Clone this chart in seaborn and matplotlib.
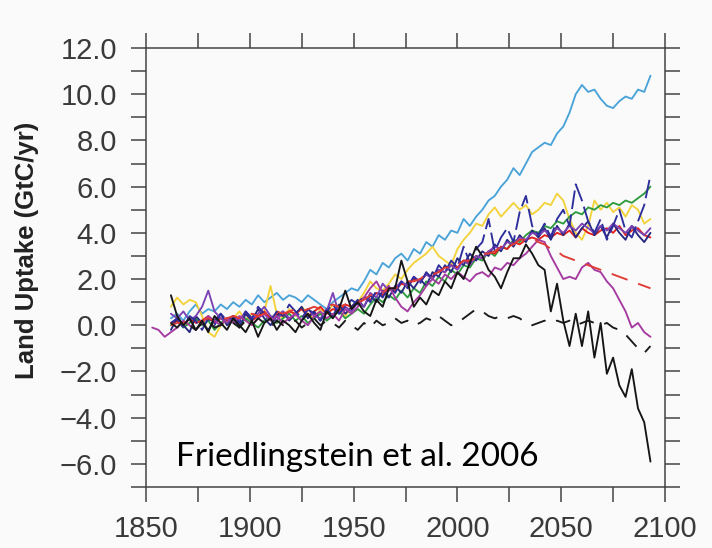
import matplotlib
matplotlib.use("Agg")
import matplotlib.pyplot as plt
import seaborn as sns
import pandas as pd
from matplotlib.ticker import MultipleLocator, FuncFormatter

# ---- data: annual land carbon uptake (GtC/yr), one value every 3 years ----
YEARS = list(range(1862, 2094, 3))            # 1862 ... 2093
YEARS_EARLY = list(range(1853, 2094, 3))      # 1853 ... 2093

light_blue = [0.3, 0.5, 0.2, 0.6, 0.9, 0.5, 0.7, 0.6, 0.9, 0.7,
              1.0, 0.8, 1.1, 0.9, 1.3, 1.0, 1.2, 1.4, 1.1, 1.3,
              1.2, 1.0, 1.3, 1.1, 0.9, 0.7, 1.0, 1.2, 1.4, 1.6,
              1.5, 1.9, 2.4, 2.2, 2.7, 2.5, 2.9, 3.1, 2.8, 3.3,
              3.1, 3.6, 3.4, 3.9, 3.7, 4.1, 4.0, 4.6, 4.3, 4.7,
              5.0, 5.4, 5.6, 6.0, 6.3, 6.8, 6.5, 7.0, 7.5, 7.7,
              7.9, 7.8, 8.3, 8.6, 9.2, 10.0, 10.4, 10.1, 10.2, 9.8,
              9.5, 9.4, 9.7, 9.9, 9.8, 10.2, 10.1, 10.8]

yellow = [0.8, 1.2, 0.9, 1.1, 1.0, 0.4, -0.3, -0.5, 0.0, 0.2,
          0.3, 0.6, 0.2, 0.5, 0.4, 0.6, 1.7, 0.5, 0.3, 0.7,
          0.4, 0.8, 0.5, 0.3, 0.7, 0.5, 0.9, 0.6, 0.4, 0.8,
          1.0, 1.4, 1.9, 1.6, 1.5, 1.8, 2.2, 2.0, 2.4, 2.7,
          2.9, 3.1, 3.4, 3.0, 2.8, 2.6, 3.3, 3.7, 4.0, 4.4,
          4.3, 4.8, 5.1, 4.7, 5.0, 5.3, 5.0, 5.2, 4.8, 5.0,
          5.3, 5.2, 5.7, 5.4, 4.6, 4.0, 3.7, 4.3, 5.4, 5.0,
          5.3, 4.9, 5.1, 4.7, 5.2, 5.0, 4.4, 4.6]

green = [0.0, 0.2, -0.1, 0.1, 0.3, 0.0, 0.2, -0.2, 0.1, 0.3,
         0.2, 0.0, 0.3, 0.1, -0.1, 0.2, 0.4, 0.1, 0.3, 0.5,
         0.2, 0.4, 0.1, 0.3, 0.5, 0.2, 0.4, 0.6, 0.3, 0.5,
         0.7, 0.5, 0.9, 1.2, 1.0, 1.3, 1.1, 1.5, 1.2, 1.6,
         1.4, 1.9, 1.7, 2.1, 1.9, 2.4, 2.2, 2.6, 2.5, 2.9,
         2.8, 3.2, 3.0, 3.4, 3.3, 3.7, 3.6, 3.9, 4.1, 4.0,
         4.3, 4.2, 4.5, 4.4, 4.7, 4.9, 4.8, 5.1, 5.0, 5.2,
         5.1, 5.3, 5.2, 5.4, 5.3, 5.5, 5.7, 6.0]

red = [0.1, 0.2, 0.0, 0.3, 0.1, 0.2, 0.4, 0.1, 0.3, 0.2,
       0.4, 0.3, 0.5, 0.2, 0.4, 0.6, 0.3, 0.5, 0.4, 0.6,
       0.5, 0.7, 0.4, 0.6, 0.8, 0.5, 0.7, 0.6, 0.9, 0.8,
       1.0, 1.2, 1.1, 1.4, 1.3, 1.6, 1.5, 1.8, 1.7, 2.0,
       1.9, 2.2, 2.1, 2.4, 2.3, 2.6, 2.5, 2.8, 2.7, 3.0,
       2.9, 3.2, 3.1, 3.4, 3.3, 3.6, 3.5, 3.7, 3.8, 3.7,
       3.9, 3.8, 4.0, 3.9, 4.1, 3.8, 4.2, 4.0, 3.9, 4.1,
       4.2, 4.0, 4.3, 3.9, 4.1, 4.2, 3.9, 3.8]

navy = [-0.2, 0.3, 0.0, -0.3, 0.4, 0.1, -0.2, 0.2, 0.5, 0.0,
        0.3, -0.1, 0.5, 0.2, 0.7, 0.3, 0.0, 0.4, 0.6, 0.2,
        0.5, 0.8, 0.3, 0.6, 0.2, 0.7, 0.4, 0.9, 0.5, 0.8,
        1.1, 0.8, 1.3, 1.0, 1.5, 1.2, 1.7, 1.4, 1.9, 1.6,
        2.0, 1.7, 2.3, 2.1, 2.6, 2.3, 2.9, 2.6, 3.1, 2.8,
        3.2, 3.0, 3.5, 3.2, 3.7, 3.4, 3.9, 3.6, 4.1, 3.8,
        4.2, 3.7, 4.3, 3.9, 4.4, 3.8, 4.2, 4.5, 3.9, 4.3,
        3.8, 4.4, 4.0, 3.7, 4.3, 3.9, 3.6, 4.0]

purple = [0.5, 0.3, 0.6, 0.2, 0.4, 0.8, 1.5, 0.6, 0.3, 0.1,
          0.4, 0.2, 0.6, 0.3, 0.5, 0.8, 0.4, 0.2, 0.6, 0.3,
          0.5, 0.2, 0.7, 0.4, 0.3, 0.6, 1.4, 0.5, 0.8, 0.6,
          1.0, 0.8, 1.4, 1.2, 1.8, 1.5, 1.6, 1.9, 1.7, 2.1,
          1.9, 2.2, 2.0, 2.4, 2.3, 2.6, 2.4, 2.8, 2.6, 3.0,
          2.9, 3.2, 3.4, 3.3, 3.6, 3.5, 3.8, 3.7, 4.0, 3.9,
          4.1, 3.9, 4.2, 4.0, 4.3, 4.1, 4.4, 4.2, 4.0, 4.3,
          4.1, 4.4, 4.2, 4.0, 4.3, 4.1, 3.9, 4.2]

navy_dashed = [0.1, 0.3, -0.1, 0.4, 0.2, -0.2, 0.3, 0.0, 0.5, 0.2,
               0.4, 0.1, 0.6, 0.3, 0.8, 0.5, 0.2, 0.6, 0.4, 0.9,
               0.6, 0.3, 0.7, 0.5, 0.2, 0.6, 0.9, 0.5, 0.8, 1.1,
               0.9, 1.3, 1.0, 1.5, 1.2, 1.7, 1.4, 1.9, 1.6, 2.1,
               1.8, 2.3, 2.0, 2.6, 2.3, 2.8, 2.5, 3.4, 2.7, 3.3,
               3.6, 4.6, 3.2, 3.8, 4.2, 3.6, 4.9, 5.6, 4.3, 3.9,
               4.4, 3.8, 4.6, 5.0, 4.3, 6.1, 5.4, 4.5, 4.0, 4.6,
               3.7, 4.3, 5.0, 4.1, 3.8, 4.5, 5.2, 6.5]

magenta = [-0.1, -0.2, -0.5,
           -0.3, -0.1, 0.2, 0.0, -0.2, 0.1, 0.4, 0.2, 0.0, 0.3,
           0.1, 0.4, 0.2, 0.0, 0.3, 0.5, 0.2, 0.4, 0.1, 0.3,
           0.5, 0.2, 0.0, 0.4, 0.6, 0.3, 0.5, 0.2, 0.7, 0.5,
           0.8, 1.2, 1.6, 1.9, 1.4, 1.7, 1.2, 0.8, 0.6, 1.0,
           1.3, 1.7, 2.0, 1.8, 2.2, 2.0, 2.3, 2.1, 1.9, 2.2,
           2.3, 2.1, 2.5, 2.4, 2.7, 2.6, 2.9, 3.1, 3.4, 3.7,
           3.6, 3.0, 2.5, 2.0, 2.1, 2.0, 2.5, 2.7, 2.4, 2.3,
           1.9, 1.6, 1.1, 0.6, -0.1, 0.1, -0.3, -0.5]

red_dashed = [0.0, 0.1, 0.1, 0.2, 0.1, 0.2, 0.3, 0.2, 0.3, 0.3,
              0.4, 0.3, 0.4, 0.5, 0.4, 0.5, 0.5, 0.6, 0.5, 0.6,
              0.7, 0.6, 0.7, 0.8, 0.7, 0.8, 0.9, 0.8, 0.9, 1.0,
              1.0, 1.1, 1.3, 1.3, 1.4, 1.6, 1.6, 1.7, 1.9, 1.9,
              2.0, 2.2, 2.2, 2.3, 2.5, 2.5, 2.6, 2.8, 2.8, 2.9,
              3.1, 3.1, 3.2, 3.4, 3.4, 3.5, 3.7, 3.7, 3.8, 3.6,
              3.5, 3.3, 3.2, 3.0, 2.9, 2.8, 2.7, 2.6, 2.5, 2.4,
              2.3, 2.2, 2.1, 2.0, 1.9, 1.8, 1.7, 1.6]

black_dashed = [0.1, -0.1, 0.2, 0.0, -0.2, 0.1, 0.2, -0.1, 0.0, 0.2,
                0.1, -0.1, 0.2, 0.0, 0.3, 0.1, -0.1, 0.2, 0.0, 0.1,
                0.2, -0.1, 0.1, 0.3, 0.0, 0.2, 0.1, -0.1, 0.2, 0.0,
                -0.2, 0.1, -0.1, 0.2, 0.0, 0.1, 0.3, 0.1, 0.2, 0.0,
                0.1, 0.3, 0.2, 0.4, 0.2, 0.0, 0.1, 0.3, 0.5, 0.7,
                0.6, 0.4, 0.3, 0.4, 0.3, 0.4, 0.3, 0.1, 0.0, 0.1,
                0.2, 0.1, 0.2, 0.1, 0.2, 0.0, 0.1, 0.2, 0.1, 0.0,
                0.1, -0.1, -0.2, -0.4, -0.7, -1.0, -1.2, -0.9]

black = [1.3, 0.4, 0.0, 0.3, -0.2, 0.2, -0.3, 0.4, 0.1, -0.2,
         0.3, 0.0, -0.3, 0.2, -0.5, 0.1, 0.3, -0.2, 0.2, 0.0,
         -0.3, 0.2, 0.5, 0.1, -0.2, 0.6, 0.3, 0.7, 1.5, 0.7,
         1.0, 0.6, 0.4, 1.1, 0.8, 1.6, 1.6, 2.8, 1.9, 0.8,
         1.2, 0.9, 1.5, 1.3, 1.9, 1.6, 2.3, 2.0, 2.7, 3.4,
         3.0, 2.4, 2.1, 1.6, 2.3, 2.9, 2.9, 3.5, 3.1, 2.6,
         2.4, 0.6, 1.8, 0.2, -0.9, 0.5, -0.9, 0.6, -1.4, 0.1,
         -2.1, -1.4, -2.6, -3.1, -1.9, -3.6, -4.2, -5.9]

# (years, values, colour, dash pattern or None for solid), in drawing order
SERIES = [
    (YEARS, light_blue, "#4aa3d8", None),
    (YEARS, yellow, "#f2d33c", None),
    (YEARS, green, "#2f9b3f", None),
    (YEARS, red, "#e3221f", None),
    (YEARS, navy, "#27287f", None),
    (YEARS, purple, "#7b42b4", None),
    (YEARS, navy_dashed, "#2d2d9c", (10, 3)),
    (YEARS_EARLY, magenta, "#a43aa0", None),
    (YEARS, red_dashed, "#e03a34", (9, 6)),
    (YEARS, black_dashed, "#1a1a1a", (8, 6)),
    (YEARS, black, "#151515", None),
]

sns.set_style("ticks")
plt.rcParams["font.family"] = ["Liberation Sans", "DejaVu Sans"]

BG = "#fafafa"
fig = plt.figure(figsize=(7.12, 5.48), dpi=100, facecolor=BG)
ax = fig.add_axes([146 / 712, 61 / 548, 519 / 712, 439 / 548])
ax.set_facecolor(BG)

for yrs, vals, col, dash in SERIES:
    df = pd.DataFrame({"year": yrs, "uptake": vals})
    sns.lineplot(data=df, x="year", y="uptake", ax=ax, color=col,
                 linewidth=1.35, estimator=None, sort=False, legend=False)
    if dash is not None:
        ax.lines[-1].set_dashes(dash)

ax.set_xlim(1850, 2100)
ax.set_ylim(-7, 12)
ax.xaxis.set_major_locator(MultipleLocator(50))
ax.xaxis.set_minor_locator(MultipleLocator(25))
ax.yaxis.set_major_locator(MultipleLocator(2))
ax.yaxis.set_minor_locator(MultipleLocator(1))
ax.yaxis.set_major_formatter(FuncFormatter(lambda v, p: f"{v:.1f}".replace("-", "\u2212")))

ax.tick_params(which="both", direction="out", length=11, width=1.1,
               color="#444444", top=True, right=True)
ax.tick_params(axis="y", which="major", labelsize=21, labelcolor="#3a3a3a", pad=10)
ax.tick_params(axis="x", which="major", labelsize=21, labelcolor="#3a3a3a", pad=9)
for s in ax.spines.values():
    s.set_color("#444444")
    s.set_linewidth(1.1)

ax.set_xlabel("")
ax.set_ylabel("")
fig.text(27 / 712, 1 - 250 / 548, "Land Uptake (GtC/yr)", rotation=90,
         ha="center", va="center", fontsize=18.5, fontweight="bold", color="#222222")

fig.text(176 / 712, 1 - 466 / 548, "Friedlingstein et al. 2006",
         family=["Lato", "DejaVu Sans"], fontsize=24, color="black",
         ha="left", va="baseline")

fig.savefig("out.png", dpi=100, facecolor=BG)
